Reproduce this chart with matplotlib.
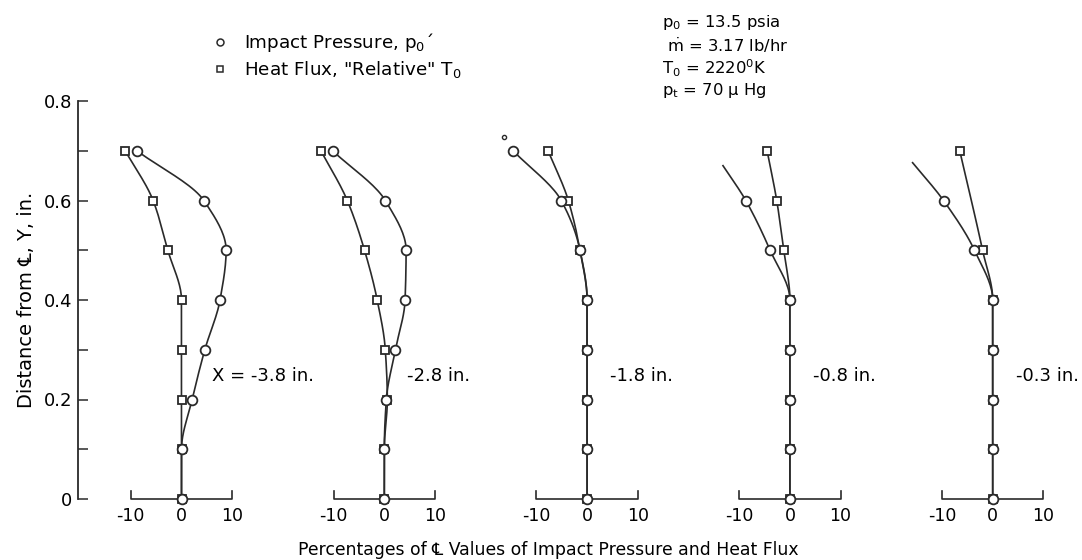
import numpy as np
import matplotlib
matplotlib.use("Agg")
import matplotlib.pyplot as plt
from matplotlib.lines import Line2D

plt.rcParams['font.family'] = ['DejaVu Sans']
plt.rcParams['mathtext.fontset'] = 'dejavusans'

# data (percent of centerline value vs Y in inches)
y_levels = [0.0, 0.1, 0.2, 0.3, 0.4, 0.5, 0.6, 0.7]
stations = ["X = -3.8 in.", "-2.8 in.", "-1.8 in.", "-0.8 in.", "-0.3 in."]

pressure = [
    [0, 0, 2.1, 4.6, 7.6, 8.8, 4.4, -8.8],
    [0, 0, 0.4, 2.2, 4.1, 4.3, 0.2, -10.2],
    [0, 0, 0, 0, 0, -1.4, -5.1, -14.6],
    [0, 0, 0, 0, 0, -3.9, -8.7, np.nan],
    [0, 0, 0, 0, 0, -3.6, -9.7, np.nan],
]
heat_flux = [
    [0, 0, 0, 0, 0, -2.7, -5.6, -11.1],
    [0, 0, 0.6, 0.2, -1.4, -3.9, -7.3, -12.5],
    [0, 0, 0, 0, 0, -1.4, -3.7, -7.7],
    [0, 0, 0, 0, 0, -1.2, -2.6, -4.5],
    [0, 0, 0, 0, 0, -2.0, np.nan, -6.5],
]
# faired pressure curves run on past the last measured point
pressure_end_x = [np.nan, np.nan, np.nan, -13.2, -15.8]
pressure_end_y = [np.nan, np.nan, np.nan, 0.67, 0.676]
stray_x, stray_y = -16.4, 0.728   # small circle above station 3

spacing = 40.0


def fair(x, y, n=20):
    # monotone cubic (pchip) of x against y, no overshoot between points
    x = np.asarray(x, float)
    y = np.asarray(y, float)
    h = np.diff(y)
    d = np.diff(x) / h
    m = np.zeros_like(x)
    m[0], m[-1] = d[0], d[-1]
    for k in range(1, len(x) - 1):
        if d[k - 1] * d[k] > 0:
            w1 = 2 * h[k] + h[k - 1]
            w2 = h[k] + 2 * h[k - 1]
            m[k] = (w1 + w2) / (w1 / d[k - 1] + w2 / d[k])
    xs, ys = [], []
    t = np.linspace(0, 1, n, endpoint=False)
    for k in range(len(x) - 1):
        h00 = 2 * t ** 3 - 3 * t ** 2 + 1
        h10 = t ** 3 - 2 * t ** 2 + t
        h01 = -2 * t ** 3 + 3 * t ** 2
        h11 = t ** 3 - t ** 2
        xs.append(h00 * x[k] + h10 * h[k] * m[k] + h01 * x[k + 1] + h11 * h[k] * m[k + 1])
        ys.append(y[k] + t * h[k])
    xs.append([x[-1]])
    ys.append([y[-1]])
    return np.concatenate(xs), np.concatenate(ys)


fig = plt.figure(figsize=(10.82, 5.6), dpi=100)
ax = fig.add_axes([78 / 1082, 61 / 560, 997 / 1082, 398 / 560])
ax.set_xlim(-(181.5 - 78) / 5.07, (1075 - 181.5) / 5.07)
ax.set_ylim(0, 0.8)

ink = '#2a2a2a'
lw = 1.2
ys = np.array(y_levels)
for k in range(5):
    off = k * spacing
    px = np.array(pressure[k], dtype=float)
    hx = np.array(heat_flux[k], dtype=float)
    mp = ~np.isnan(px)
    mh = ~np.isnan(hx)

    cx, cy = px[mp], ys[mp]
    if not np.isnan(pressure_end_x[k]):
        cx = np.append(cx, pressure_end_x[k])
        cy = np.append(cy, pressure_end_y[k])
    fx, fy = fair(cx, cy)
    ax.plot(fx + off, fy, color=ink, lw=lw, clip_on=False, zorder=2)
    fx, fy = fair(hx[mh], ys[mh])
    ax.plot(fx + off, fy, color=ink, lw=lw, clip_on=False, zorder=2)

    ax.plot(hx[mh] + off, ys[mh], ls='none', marker='s', ms=6, mfc='white',
            mec=ink, mew=1.3, clip_on=False, zorder=3)
    ax.plot(px[mp] + off, ys[mp], ls='none', marker='o', ms=7, mfc='white',
            mec=ink, mew=1.3, clip_on=False, zorder=4)

    # per-station percentage scale
    ax.plot(np.array([-10, -10, 10, 10]) + off, [0.016, 0, 0, 0.016],
            color=ink, lw=1.2, clip_on=False, zorder=1)
    for v in (-10, 0, 10):
        ax.text(v + off, -0.017, str(v), ha='center', va='top', fontsize=12.5)
    ax.text(off + (6.0 if k == 0 else 4.5), 0.247, stations[k],
            ha='left', va='center', fontsize=13)

ax.plot([stray_x + 2 * spacing], [stray_y], ls='none', marker='o', ms=3,
        mfc='white', mec=ink, mew=1.0, clip_on=False)

for s in ('top', 'right', 'bottom'):
    ax.spines[s].set_visible(False)
ax.spines['left'].set_linewidth(1.3)
ax.spines['left'].set_color(ink)
ax.set_xticks([])
ax.set_yticks([0, 0.2, 0.4, 0.6, 0.8])
ax.set_yticklabels(['0', '0.2', '0.4', '0.6', '0.8'])
ax.set_yticks([0.1, 0.3, 0.5, 0.7], minor=True)
ax.tick_params(axis='y', which='both', direction='in', length=7, width=1.1,
               color=ink, labelsize=13, pad=4)
ax.set_ylabel('Distance from \u2104, Y, in.', fontsize=14, labelpad=6)

fig.text(548 / 1082, 1 - 550 / 560,
         'Percentages of \u2104 Values of Impact Pressure and Heat Flux',
         ha='center', va='center', fontsize=12.4)

handles = [
    Line2D([], [], ls='none', marker='o', ms=5, mfc='white', mec=ink, mew=1.1),
    Line2D([], [], ls='none', marker='s', ms=5, mfc='white', mec=ink, mew=1.1),
]
labels = ['Impact Pressure, $\\mathregular{p_0}$\u00b4',
          'Heat Flux, "Relative" $\\mathregular{T_0}$']
ax.legend(handles, labels, loc='upper left',
          bbox_to_anchor=(211 / 1082, 1 - 31 / 560), bbox_transform=fig.transFigure,
          frameon=False, fontsize=13.2, handlelength=1.0, handletextpad=0.8,
          labelspacing=0.3, borderpad=0, borderaxespad=0)

params = ['$\\mathregular{p_0}$ = 13.5 psia',
          ' $\\dot{\\mathregular{m}}$ = 3.17 lb/hr',
          '$\\mathregular{T_0}$ = 2220$^\\mathregular{0}$K',
          '$\\mathregular{p_t}$ = 70 \u03bc Hg']
for i, t in enumerate(params):
    fig.text(662 / 1082, 1 - (22 + 23 * i) / 560, t, ha='left', va='center',
             fontsize=11.8)

fig.savefig('out.png', dpi=100)
